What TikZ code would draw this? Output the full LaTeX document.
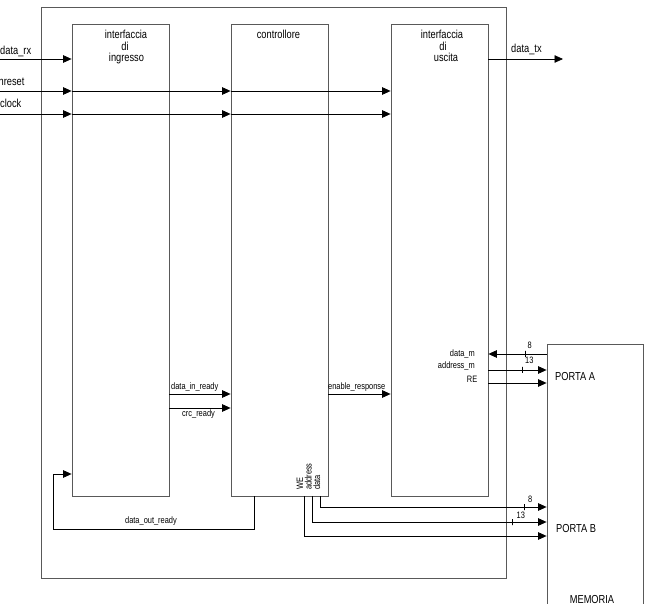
\documentclass[tikz,border=0pt]{standalone}
\usepackage{fontspec}
\setmainfont[FakeStretch=0.8]{Liberation Sans}
\usetikzlibrary{arrows.meta}
\tikzset{
  bordo/.style={draw=black!65, line width=0.8pt},
  blocco/.style={bordo, minimum width=97pt, minimum height=472pt, inner sep=0pt},
  filo/.style={draw=black, line width=0.7pt},
  freccia/.style={filo, -{Triangle[length=8.5pt,width=7.5pt]}},
  tacca/.style={draw=black, line width=0.7pt, minimum width=0pt, minimum height=6pt, inner sep=0pt},
  testo/.style={font=\fontsize{11.6}{12}\selectfont, inner sep=0pt, anchor=base},
  piccolo/.style={font=\fontsize{9.3}{10}\selectfont, inner sep=0pt, anchor=base},
}
\begin{document}
\begin{tikzpicture}[x=1pt,y=-1pt]
    \useasboundingbox (0,0) rectangle (646,604);
    \clip (0,0) rectangle (646,604);
    \draw[bordo] (41,7) rectangle (506,578);
    \node[blocco] (ingr) at (120.5,260) {};
    \node[blocco] (ctrl) at (279.5,260) {};
    \node[blocco] (usc) at (439.5,260) {};
    \node[blocco, minimum width=96pt, minimum height=300pt] (mem) at (595,494) {};
    \node[testo] (ti1) at (126,39) {interfaccia};
    \node[testo] (ti2) at (125,50.5) {di};
    \node[testo] (ti3) at (126.5,62) {ingresso};
    \node[testo] (tc) at (278.5,39) {controllore};
    \node[testo] (tu1) at (442,39) {interfaccia};
    \node[testo] (tu2) at (443,50.5) {di};
    \node[testo] (tu3) at (446,62) {uscita};
    \coordinate (rx) at (0,59);
    \coordinate (rst) at (0,91);
    \coordinate (clk) at (0,114);
    \coordinate (tx) at (563,59);
    \node[testo, anchor=base west] (lrx) at (0,55) {data\_rx};
    \node[testo, anchor=base west] (lrst) at (-1.5,85.5) {nreset};
    \node[testo, anchor=base west] (lclk) at (0,108) {clock};
    \node[testo, anchor=base west] (ltx) at (511,53) {data\_tx};
    \draw[freccia] (rx) -- (rx -| ingr.west);
    \draw[freccia] (rst) -- (rst -| ingr.west);
    \draw[freccia] (rst -| ingr.west) -- (rst -| ctrl.west);
    \draw[freccia] (rst -| ctrl.west) -- (rst -| usc.west);
    \draw[freccia] (clk) -- (clk -| ingr.west);
    \draw[freccia] (clk -| ingr.west) -- (clk -| ctrl.west);
    \draw[freccia] (clk -| ctrl.west) -- (clk -| usc.west);
    \draw[freccia] (usc.east |- tx) -- (tx);
    % segnali interni
    \draw[freccia] (ingr.east |- 0,394) -- (ctrl.west |- 0,394);
    \draw[freccia] (ingr.east |- 0,408) -- (ctrl.west |- 0,408);
    \draw[freccia] (ctrl.east |- 0,394) -- (usc.west |- 0,394);
    \node[piccolo, anchor=base west] (ldir) at (171,389) {data\_in\_ready};
    \node[piccolo, anchor=base west] (lcrc) at (182,417) {crc\_ready};
    \node[piccolo, anchor=base west] (len) at (328,389) {enable\_response};
    % porta A
    \draw[freccia] (mem.west |- 0,354) -- (usc.east |- 0,354) node[tacca, pos=0.373] (ta1) {};
    \draw[freccia] (usc.east |- 0,370) -- (mem.west |- 0,370) node[tacca, pos=0.576] (ta2) {};
    \draw[freccia] (usc.east |- 0,383) -- (mem.west |- 0,383);
    \node[piccolo, anchor=base east] (ldm) at (475,356) {data\_m};
    \node[piccolo, anchor=base east] (lam) at (475,369) {address\_m};
    \node[piccolo, anchor=base east] (lre) at (477.5,382.5) {RE};
    \node[piccolo, anchor=base west] (n8a) at (527.5,349) {8};
    \node[piccolo, anchor=base west] (n13a) at (525,364) {13};
    \node[testo, anchor=base west] (lpa) at (555,381) {PORTA A};
    % porta B
    \node[piccolo, rotate=90, anchor=base west] (lwe) at (303,490) {WE};
    \node[piccolo, rotate=90, anchor=base west] (lad) at (311.5,490) {address};
    \node[piccolo, rotate=90, anchor=base west] (lda) at (320,490) {data};
    \draw[freccia] ([xshift=40.5pt]ctrl.south) |- (mem.west |- 0,507) node[tacca, pos=0.952] (tb1) {};
    \draw[freccia] ([xshift=32.5pt]ctrl.south) |- (mem.west |- 0,522) node[tacca, pos=0.928] (tb2) {};
    \draw[freccia] ([xshift=24.5pt]ctrl.south) |- (mem.west |- 0,536);
    \node[piccolo, anchor=base west] (n8b) at (528,502) {8};
    \node[piccolo, anchor=base west] (n13b) at (516.5,518) {13};
    \node[testo, anchor=base west] (lpb) at (556,532) {PORTA B};
    \node[testo] (lmem) at (592,603) {MEMORIA};
    % ritorno
    \coordinate (rit) at (53,529);
    \draw[freccia] ([xshift=-25.5pt]ctrl.south) |- (rit) |- (ingr.west |- 0,474);
    \node[piccolo] (ldor) at (151,523) {data\_out\_ready};
\end{tikzpicture}
\end{document}
